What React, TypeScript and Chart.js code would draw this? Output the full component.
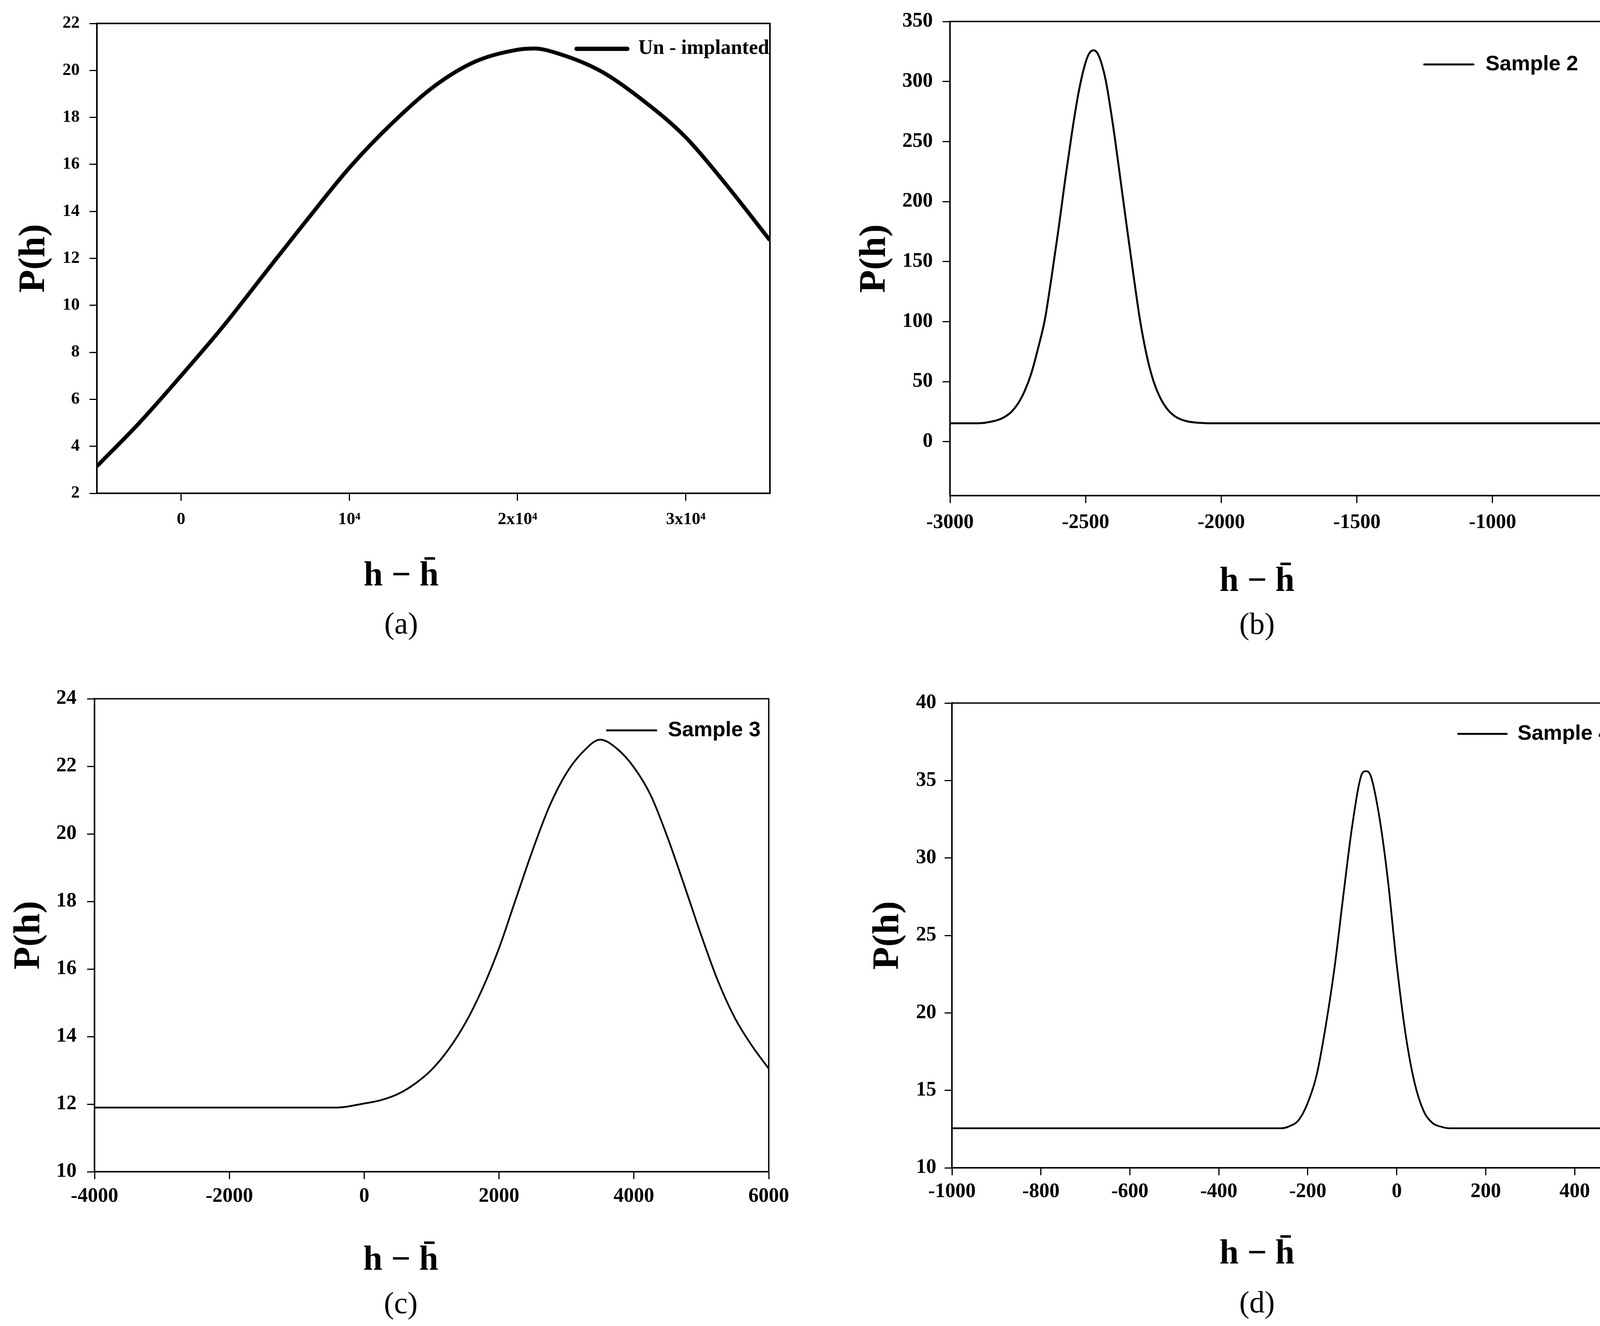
import React, { useEffect, useRef } from 'react';
import { Chart, registerables } from 'chart.js';

Chart.register(...registerables);

const SERIF = '"Liberation Serif", "Times New Roman", serif';
const SANS = '"Liberation Sans", Arial, sans-serif';

// (a) Un - implanted
const hA = [-5000, -2500, 0, 2500, 5000, 7500, 10000, 12500, 15000, 17500, 20000, 21000, 22500, 25000, 27500, 30000, 32500, 35000];
const pA = [3.15, 4.98, 7.0, 9.1, 11.38, 13.65, 15.85, 17.72, 19.3, 20.38, 20.88, 20.93, 20.7, 19.95, 18.7, 17.15, 15.05, 12.77];
const xTicksA = [0, 10000, 20000, 30000];
const xLabelsA = ['0', '10⁴', '2x10⁴', '3x10⁴'];
const yTicksA = [2, 4, 6, 8, 10, 12, 14, 16, 18, 20, 22];

// (b) Sample 2
const hB = [-3000, -2900, -2875, -2850, -2825, -2800, -2775, -2750, -2725, -2700, -2675, -2650, -2625, -2600, -2575, -2550, -2525, -2500, -2485, -2470, -2455, -2440, -2425, -2400, -2375, -2350, -2325, -2300, -2275, -2250, -2225, -2200, -2175, -2150, -2125, -2100, -2075, -2050, -500];
const pB = [15.3, 15.3, 15.6, 16.6, 17.9, 20.4, 24.5, 31.4, 42, 57, 78, 102, 138, 177, 219, 258, 292, 316, 324, 326, 323, 314, 300, 265, 224, 182, 141, 102, 72, 50.5, 36.5, 27.4, 21.8, 18.6, 16.9, 16.0, 15.6, 15.3, 15.3];
const xTicksB = [-3000, -2500, -2000, -1500, -1000, -500];
const yTicksB = [0, 50, 100, 150, 200, 250, 300, 350];

// (c) Sample 3
const hC = [-4000, -400, 0, 250, 500, 750, 1000, 1250, 1500, 1750, 2000, 2250, 2500, 2750, 3000, 3250, 3500, 3750, 4000, 4250, 4500, 4750, 5000, 5250, 5500, 5750, 6000];
const pC = [11.9, 11.9, 12.02, 12.12, 12.3, 12.6, 13.02, 13.62, 14.4, 15.4, 16.62, 18.08, 19.53, 20.83, 21.8, 22.44, 22.79, 22.52, 21.97, 21.14, 19.89, 18.46, 16.99, 15.63, 14.54, 13.73, 13.05];
const xTicksC = [-4000, -2000, 0, 2000, 4000, 6000];
const yTicksC = [10, 12, 14, 16, 18, 20, 22, 24];

// (d) Sample 4
const hD = [-1000, -260, -240, -220, -200, -180, -160, -140, -120, -100, -80, -70, -60, -40, -20, 0, 20, 40, 60, 80, 100, 120, 500];
const pD = [12.55, 12.55, 12.7, 13.1, 14.2, 16.0, 19.1, 22.9, 27.6, 32.1, 35.3, 35.6, 35.4, 32.8, 28.6, 23.1, 18.6, 15.5, 13.7, 12.9, 12.65, 12.55, 12.55];
const xTicksD = [-1000, -800, -600, -400, -200, 0, 200, 400];
const yTicksD = [10, 15, 20, 25, 30, 35, 40];

const X_TITLE = 'h − h\u0304';

interface PanelSpec {
  key: string;
  page: { left: number; top: number; width: number; height: number };
  plot: { l: number; t: number; r: number; b: number };
  label: string;
  xs: number[];
  ys: number[];
  xRange: [number, number];
  yRange: [number, number];
  xTicks: number[];
  xLabels?: string[];
  yTicks: number[];
  curveWidth: number;
  frameWidth: number;
  tickSize: number;
  tickPadX: number;
  tickPadY: number;
  legend: { x1: number; x2: number; tx: number; y: number; font: string; width: number };
  yTitleX: number;
  xTitle: { x: number; y: number };
  caption: { text: string; x: number; y: number };
}

const panels: PanelSpec[] = [
  {
    key: 'a',
    page: { left: 0, top: 0, width: 2122, height: 1700 },
    plot: { l: 248, t: 60, r: 1971, b: 1263 },
    label: 'Un - implanted',
    xs: hA, ys: pA,
    xRange: [-5000, 35000], yRange: [2, 22],
    xTicks: xTicksA, xLabels: xLabelsA, yTicks: yTicksA,
    curveWidth: 10, frameWidth: 4,
    tickSize: 44, tickPadX: 22, tickPadY: 25,
    legend: { x1: 1476, x2: 1606, tx: 1634, y: 125, font: `bold 52px ${SERIF}`, width: 11 },
    yTitleX: 88,
    xTitle: { x: 1027, y: 1476 },
    caption: { text: '(a)', x: 1027, y: 1602 },
  },
  {
    key: 'b',
    page: { left: 2122, top: 0, width: 2122, height: 1700 },
    plot: { l: 310, t: 55, r: 2046, b: 1269 },
    label: 'Sample 2',
    xs: hB, ys: pB,
    xRange: [-3000, -500], yRange: [-45, 350],
    xTicks: xTicksB, yTicks: yTicksB,
    curveWidth: 5, frameWidth: 3.5,
    tickSize: 52, tickPadX: 19, tickPadY: 25,
    legend: { x1: 1524, x2: 1650, tx: 1681, y: 165, font: `bold 54px ${SANS}`, width: 5 },
    yTitleX: 118,
    xTitle: { x: 1096, y: 1490 },
    caption: { text: '(b)', x: 1096, y: 1603 },
  },
  {
    key: 'c',
    page: { left: 0, top: 1700, width: 2122, height: 1695 },
    plot: { l: 242, t: 89, r: 1968, b: 1300 },
    label: 'Sample 3',
    xs: hC, ys: pC,
    xRange: [-4000, 6000], yRange: [10, 24],
    xTicks: xTicksC, yTicks: yTicksC,
    curveWidth: 4.5, frameWidth: 3.5,
    tickSize: 52, tickPadX: 13, tickPadY: 27,
    legend: { x1: 1554, x2: 1680, tx: 1710, y: 170, font: `bold 54px ${SANS}`, width: 5 },
    yTitleX: 75,
    xTitle: { x: 1026, y: 1528 },
    caption: { text: '(c)', x: 1026, y: 1642 },
  },
  {
    key: 'd',
    page: { left: 2122, top: 1700, width: 2122, height: 1695 },
    plot: { l: 315, t: 100, r: 2023, b: 1290 },
    label: 'Sample 4',
    xs: hD, ys: pD,
    xRange: [-1000, 500], yRange: [10, 40],
    xTicks: xTicksD, yTicks: yTicksD,
    curveWidth: 4.5, frameWidth: 3.5,
    tickSize: 52, tickPadX: 11, tickPadY: 21,
    legend: { x1: 1611, x2: 1735, tx: 1763, y: 179, font: `bold 54px ${SANS}`, width: 5 },
    yTitleX: 152,
    xTitle: { x: 1096, y: 1512 },
    caption: { text: '(d)', x: 1096, y: 1640 },
  },
];

// frame, legend, x title and the (a)-(d) caption
const decorPlugin = {
  id: 'decor',
  afterDraw(chart: Chart, _args: unknown, opts: any) {
    const { ctx, chartArea: a } = chart;
    ctx.save();
    ctx.strokeStyle = '#000';
    ctx.fillStyle = '#000';
    ctx.lineWidth = opts.frameWidth;
    ctx.strokeRect(a.left, a.top, a.right - a.left, a.bottom - a.top);

    const lg = opts.legend;
    ctx.lineWidth = lg.width;
    ctx.lineCap = 'round';
    ctx.beginPath();
    ctx.moveTo(lg.x1, lg.y);
    ctx.lineTo(lg.x2, lg.y);
    ctx.stroke();
    ctx.font = lg.font;
    ctx.textAlign = 'left';
    ctx.textBaseline = 'middle';
    ctx.fillText(String(chart.data.datasets[0].label), lg.tx, lg.y);

    ctx.textAlign = 'center';
    ctx.font = `bold 88px ${SERIF}`;
    ctx.fillText(X_TITLE, opts.xTitle.x, opts.xTitle.y);
    ctx.font = `78px ${SERIF}`;
    ctx.fillText(opts.caption.text, opts.caption.x, opts.caption.y);
    ctx.restore();
  },
};

const PanelChart: React.FC<{ spec: PanelSpec }> = ({ spec }) => {
  const canvasRef = useRef<HTMLCanvasElement>(null);

  useEffect(() => {
    if (!canvasRef.current) return;
    const s = spec;
    const tickFont = { family: SERIF, size: s.tickSize, weight: 'bold', lineHeight: 1.2 };
    const grid = {
      display: true,
      drawOnChartArea: false,
      drawTicks: true,
      tickLength: 19,
      tickWidth: 3,
      tickColor: '#000',
      color: '#000',
    };
    const border = { display: true, color: '#000', width: s.frameWidth };

    const chart = new Chart(canvasRef.current, {
      type: 'line',
      data: {
        datasets: [
          {
            label: s.label,
            data: s.xs.map((x, i) => ({ x, y: s.ys[i] })),
            borderColor: '#000',
            borderWidth: s.curveWidth,
            pointRadius: 0,
            cubicInterpolationMode: 'monotone',
            fill: false,
          },
        ],
      },
      options: {
        responsive: false,
        maintainAspectRatio: false,
        animation: false,
        devicePixelRatio: 1,
        layout: { padding: { left: 0, top: s.plot.t, right: s.page.width - s.plot.r, bottom: 0 } },
        plugins: {
          legend: { display: false },
          tooltip: { enabled: false },
          decor: {
            frameWidth: s.frameWidth,
            legend: s.legend,
            xTitle: s.xTitle,
            caption: s.caption,
          },
        } as any,
        scales: {
          x: {
            type: 'linear',
            min: s.xRange[0],
            max: s.xRange[1],
            afterBuildTicks: (sc: any) => {
              sc.ticks = s.xTicks.map((v) => ({ value: v }));
            },
            afterFit: (sc: any) => {
              sc.height = s.page.height - s.plot.b;
              sc.paddingLeft = 0;
              sc.paddingRight = 0;
            },
            ticks: {
              font: tickFont,
              color: '#000',
              padding: s.tickPadX,
              maxRotation: 0,
              autoSkip: false,
              callback: (v: any, i: number) => (s.xLabels ? s.xLabels[i] : String(v)),
            },
            grid,
            border,
          },
          y: {
            type: 'linear',
            min: s.yRange[0],
            max: s.yRange[1],
            afterBuildTicks: (sc: any) => {
              sc.ticks = s.yTicks.map((v) => ({ value: v }));
            },
            afterFit: (sc: any) => {
              sc.width = s.plot.l;
              sc.paddingTop = 0;
              sc.paddingBottom = 0;
            },
            ticks: {
              font: tickFont,
              color: '#000',
              padding: s.tickPadY,
              autoSkip: false,
              callback: (v: any) => String(v),
            },
            title: {
              display: true,
              text: 'P(h)',
              color: '#000',
              font: { family: SERIF, size: 96, weight: 'bold', lineHeight: 1 },
              padding: { top: s.yTitleX - 48, bottom: 0 },
            },
            grid,
            border,
          },
        },
      } as any,
      plugins: [decorPlugin],
    });

    return () => chart.destroy();
  }, [spec]);

  return (
    <div
      style={{
        position: 'absolute',
        left: spec.page.left,
        top: spec.page.top,
        width: spec.page.width,
        height: spec.page.height,
      }}
    >
      <canvas
        ref={canvasRef}
        width={spec.page.width}
        height={spec.page.height}
        style={{ width: spec.page.width, height: spec.page.height, display: 'block' }}
      />
    </div>
  );
};

const App: React.FC = () => {
  return (
    <div
      style={{
        position: 'absolute',
        left: 0,
        top: 0,
        width: 4244,
        height: 3395,
        background: '#fff',
        overflow: 'hidden',
      }}
    >
      {panels.map((p) => (
        <PanelChart key={p.key} spec={p} />
      ))}
    </div>
  );
};

export default App;
